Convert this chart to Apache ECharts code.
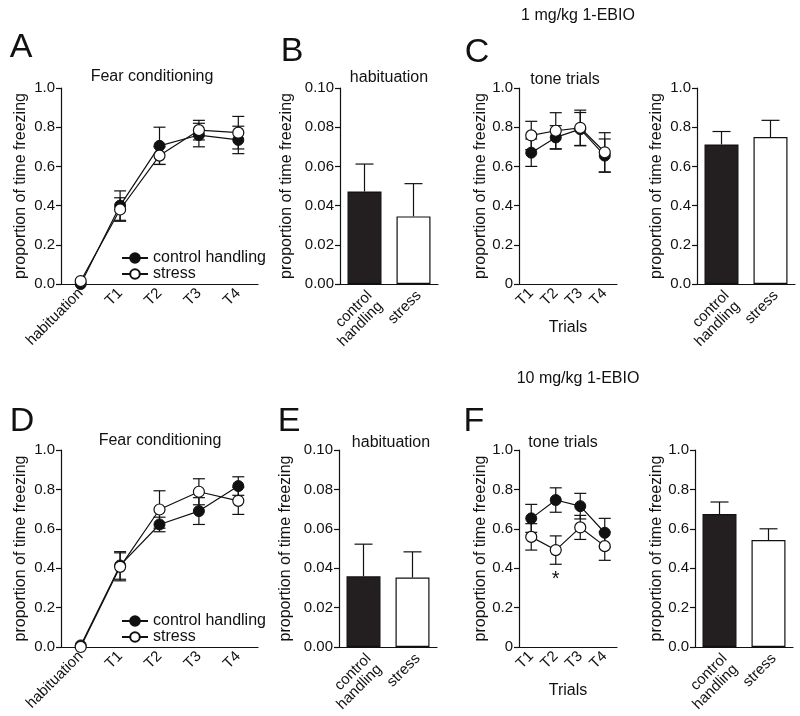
<!DOCTYPE html>
<html>
<head>
<meta charset="utf-8">
<script src="https://cdn.jsdelivr.net/npm/echarts@6/dist/echarts.min.js"></script>
<style>
html, body { margin: 0; background: #fff; }
#chart { width: 800px; height: 716px; }
</style>
</head>
<body>
<div id="chart"></div>
<script>
var FONT = '"Liberation Sans", Arial, sans-serif'
var INK = '#111'

var fcTrials = ['habituation', 'T1', 'T2', 'T3', 'T4']
var toneTrials = ['T1', 'T2', 'T3', 'T4']
var groups = ['control\nhandling', 'stress']

// 1 mg/kg 1-EBIO
var aCtrl = [0.0, 0.40, 0.705, 0.76, 0.735]
var aCtrlErr = [0, 0.075, 0.095, 0.06, 0.07]
var aStress = [0.015, 0.38, 0.655, 0.785, 0.772]
var aStressErr = [0, 0.06, 0.045, 0.05, 0.083]
var bHab = [0.0472, 0.0345]
var bHabErr = [0.014, 0.0167]
var cCtrl = [0.67, 0.748, 0.79, 0.655]
var cCtrlErr = [0.07, 0.06, 0.085, 0.085]
var cStress = [0.758, 0.782, 0.797, 0.672]
var cStressErr = [0.072, 0.092, 0.09, 0.1]
var cMean = [0.712, 0.75]
var cMeanErr = [0.066, 0.085]

// 10 mg/kg 1-EBIO
var dCtrl = [0.008, 0.414, 0.622, 0.69, 0.817]
var dCtrlErr = [0, 0.07, 0.037, 0.068, 0.047]
var dStress = [0.0, 0.407, 0.698, 0.788, 0.742]
var dStressErr = [0, 0.071, 0.095, 0.066, 0.069]
var eHab = [0.0359, 0.0353]
var eHabErr = [0.0163, 0.013]
var fCtrl = [0.653, 0.746, 0.715, 0.58]
var fCtrlErr = [0.071, 0.062, 0.065, 0.073]
var fStress = [0.559, 0.492, 0.607, 0.512]
var fStressErr = [0.067, 0.072, 0.061, 0.072]
var fMean = [0.675, 0.543]
var fMeanErr = [0.061, 0.057]

var chart = echarts.init(document.getElementById('chart'))

var grids = [
	{ left: 61, top: 88, width: 197, height: 196 },
	{ left: 340, top: 88, width: 98, height: 196 },
	{ left: 519, top: 88, width: 98, height: 196 },
	{ left: 697, top: 88, width: 98, height: 196 },
	{ left: 61, top: 450, width: 197, height: 197 },
	{ left: 339, top: 450, width: 98, height: 197 },
	{ left: 519, top: 450, width: 98, height: 197 },
	{ left: 695, top: 450, width: 98, height: 197 },
]

var axisLine = { lineStyle: { color: INK, width: 1.2 } }
var tickStyle = { color: INK, width: 1.2 }

function fmt1(v) { return v.toFixed(1) }
function fmt0(v) { return v === 0 ? '0' : v.toFixed(1) }
function fmt2(v) { return v.toFixed(2) }

function yAxis(i, max, interval, formatter, nameGap) {
	return {
		gridIndex: i, type: 'value', min: 0, max: max, interval: interval,
		name: 'proportion of time freezing', nameLocation: 'middle', nameGap: nameGap,
		nameTextStyle: { fontSize: 16, color: INK, fontFamily: FONT },
		axisLine: { show: true, lineStyle: axisLine.lineStyle }, axisTick: { show: true, length: 5, lineStyle: tickStyle },
		splitLine: { show: false },
		axisLabel: { fontSize: 15, color: INK, fontFamily: FONT, margin: 6, formatter: formatter },
	}
}

function xAxis(i, data, name, topAlign) {
	var label = { interval: 0, rotate: 45, fontSize: 15, lineHeight: 15, color: INK, fontFamily: FONT, margin: 7 }
	if (topAlign) {
		label.verticalAlign = 'top'
		label.margin = 4
	}
	return {
		gridIndex: i, type: 'category', data: data, boundaryGap: true,
		name: name || '', nameLocation: 'middle', nameGap: 36,
		nameTextStyle: { fontSize: 16, color: INK, fontFamily: FONT },
		axisLine: axisLine, axisTick: { alignWithLabel: true, length: 5, lineStyle: tickStyle },
		axisLabel: label,
	}
}

function errBars(i, values, errs, oneSided, capHalf) {
	return {
		type: 'custom', xAxisIndex: i, yAxisIndex: i, z: 2, silent: true,
		data: values.map(function (v, k) { return [k, oneSided ? v : v - errs[k], v + errs[k]] }),
		encode: { x: 0, y: [1, 2] },
		renderItem: function (params, api) {
			var lo = api.coord([api.value(0), api.value(1)])
			var hi = api.coord([api.value(0), api.value(2)])
			var st = { stroke: INK, lineWidth: 1.2 }
			if (Math.abs(lo[1] - hi[1]) < 0.5) return { type: 'group', children: [] }
			var children = [
				{ type: 'line', shape: { x1: lo[0], y1: lo[1], x2: hi[0], y2: hi[1] }, style: st },
				{ type: 'line', shape: { x1: hi[0] - capHalf, y1: hi[1], x2: hi[0] + capHalf, y2: hi[1] }, style: st },
			]
			if (!oneSided) {
				children.push({ type: 'line', shape: { x1: lo[0] - capHalf, y1: lo[1], x2: lo[0] + capHalf, y2: lo[1] }, style: st })
			}
			return { type: 'group', children: children }
		},
	}
}

function lineSeries(i, name, values, filled) {
	return {
		type: 'line', name: name, xAxisIndex: i, yAxisIndex: i, z: 3,
		data: values, symbol: 'circle', symbolSize: 11,
		lineStyle: { color: INK, width: 1.2 },
		itemStyle: filled ? { color: INK, borderColor: INK, borderWidth: 1 } : { color: '#fff', borderColor: INK, borderWidth: 1.2 },
		emphasis: { disabled: true },
	}
}

function barSeries(i, values) {
	return {
		type: 'bar', xAxisIndex: i, yAxisIndex: i, z: 2, barWidth: 34,
		data: [
			{ value: values[0], itemStyle: { color: '#231f20' } },
			{ value: values[1], itemStyle: { color: '#fff' } },
		],
		itemStyle: { borderColor: INK, borderWidth: 1.2 },
		emphasis: { disabled: true },
	}
}

function text(x, y, str, size) {
	return {
		type: 'text', x: x, y: y,
		style: { text: str, fontSize: size, fontFamily: FONT, fill: INK, align: 'center', verticalAlign: 'middle' },
	}
}

var fStressData = fStress.map(function (v, k) {
	if (k !== 1) return v
	return { value: v, label: { show: true, position: 'bottom', distance: 13, formatter: '*', fontSize: 20, color: INK, fontFamily: FONT } }
})

var legendBase = {
	orient: 'vertical', left: 116, itemWidth: 26, itemHeight: 12, itemGap: 0,
	textStyle: { fontSize: 16, color: INK, fontFamily: FONT },
	data: ['control handling', 'stress'], selectedMode: false,
}

var option = {
	animation: false,
	backgroundColor: '#fff',
	grid: grids,
	legend: [
		Object.assign({}, legendBase, { top: 245 }),
		Object.assign({}, legendBase, { top: 608 }),
	],
	xAxis: [
		xAxis(0, fcTrials),
		xAxis(1, groups, '', true),
		xAxis(2, toneTrials, 'Trials'),
		xAxis(3, groups, '', true),
		xAxis(4, fcTrials),
		xAxis(5, groups, '', true),
		xAxis(6, toneTrials, 'Trials'),
		xAxis(7, groups, '', true),
	],
	yAxis: [
		yAxis(0, 1, 0.2, fmt1, 32),
		yAxis(1, 0.1, 0.02, fmt2, 45),
		yAxis(2, 1, 0.2, fmt0, 30),
		yAxis(3, 1, 0.2, fmt1, 32),
		yAxis(4, 1, 0.2, fmt1, 32),
		yAxis(5, 0.1, 0.02, fmt2, 45),
		yAxis(6, 1, 0.2, fmt0, 30),
		yAxis(7, 1, 0.2, fmt1, 30),
	],
	series: [
		errBars(0, aCtrl, aCtrlErr, false, 6),
		errBars(0, aStress, aStressErr, false, 6),
		lineSeries(0, 'control handling', aCtrl, true),
		lineSeries(0, 'stress', aStress, false),

		barSeries(1, bHab),
		errBars(1, bHab, bHabErr, true, 9),

		errBars(2, cCtrl, cCtrlErr, false, 6),
		errBars(2, cStress, cStressErr, false, 6),
		lineSeries(2, 'control handling', cCtrl, true),
		lineSeries(2, 'stress', cStress, false),

		barSeries(3, cMean),
		errBars(3, cMean, cMeanErr, true, 9),

		errBars(4, dCtrl, dCtrlErr, false, 6),
		errBars(4, dStress, dStressErr, false, 6),
		lineSeries(4, 'control handling', dCtrl, true),
		lineSeries(4, 'stress', dStress, false),

		barSeries(5, eHab),
		errBars(5, eHab, eHabErr, true, 9),

		errBars(6, fCtrl, fCtrlErr, false, 6),
		errBars(6, fStress, fStressErr, false, 6),
		lineSeries(6, 'control handling', fCtrl, true),
		lineSeries(6, 'stress', fStressData, false),

		barSeries(7, fMean),
		errBars(7, fMean, fMeanErr, true, 9),
	],
	graphic: [
		text(578, 16, '1 mg/kg 1-EBIO', 16),
		text(578, 379, '10 mg/kg 1-EBIO', 16),
		text(21, 48, 'A', 34),
		text(292, 52, 'B', 34),
		text(477, 53, 'C', 34),
		text(22, 422, 'D', 34),
		text(289, 422, 'E', 34),
		text(474, 422, 'F', 34),
		text(152, 77, 'Fear conditioning', 16),
		text(389, 78, 'habituation', 16),
		text(565, 80, 'tone trials', 16),
		text(160, 441, 'Fear conditioning', 16),
		text(391, 443, 'habituation', 16),
		text(563, 443, 'tone trials', 16),
	],
}

chart.setOption(option)
</script>
</body>
</html>
